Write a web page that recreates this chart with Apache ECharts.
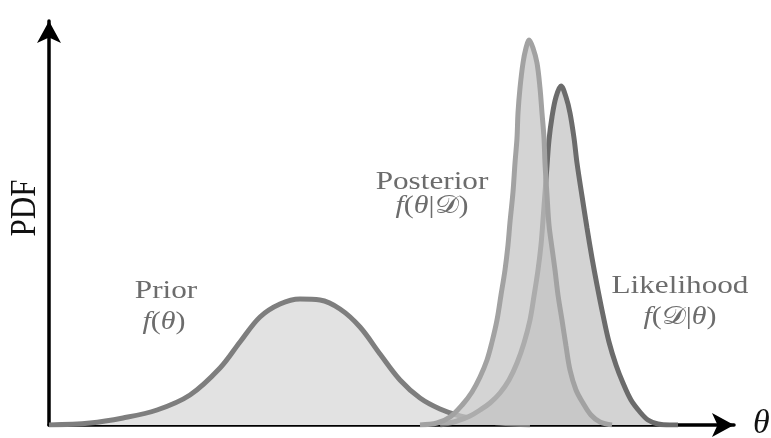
<!DOCTYPE html>
<html><head><meta charset="utf-8">
<script src="https://cdn.jsdelivr.net/npm/echarts@6/dist/echarts.min.js"></script>
<style>html,body{margin:0;padding:0;background:#fff}#c{width:771px;height:438px}</style>
</head><body><div id="c"></div>
<script>
// ---- data (theta in arbitrary units, PDF in arbitrary units) ----
const priorTheta = [0.0, 4.1, 7.4, 10.8, 14.1, 17.1, 19.1, 21.1, 23.1, 25.1, 27.1, 29.1, 31.1, 33.1, 35.1, 37.1, 39.1, 41.1, 43.1, 45.1, 48.1];
const priorPdf   = [0, 0.02, 0.07, 0.15, 0.30, 0.57, 0.83, 1.08, 1.21, 1.26, 1.25, 1.16, 0.98, 0.71, 0.45, 0.27, 0.16, 0.09, 0.05, 0.02, 0];

const likelihoodTheta = [39.1, 40.8, 42.1, 43.1, 44.1, 45.1, 46.0, 46.8, 47.5, 48.1, 48.5, 48.9, 49.2, 49.4, 49.6, 49.8, 50.0, 50.3, 50.7, 51.2, 51.7, 52.1, 52.5, 52.8, 53.3, 53.8, 54.3, 54.8, 55.4, 56.0, 56.7, 57.4, 58.2, 59.1, 59.9, 60.9, 62.1, 62.9];
const likelihoodPdf   = [0, 0.04, 0.09, 0.15, 0.22, 0.32, 0.45, 0.62, 0.82, 1.05, 1.29, 1.55, 1.80, 2.05, 2.32, 2.59, 2.85, 3.08, 3.28, 3.39, 3.28, 3.12, 2.87, 2.62, 2.29, 1.97, 1.67, 1.40, 1.10, 0.83, 0.60, 0.42, 0.25, 0.13, 0.05, 0.01, 0, 0];

const posteriorTheta = [37.1, 38.8, 40.1, 41.4, 42.3, 43.1, 43.8, 44.3, 44.8, 45.2, 45.6, 45.9, 46.1, 46.4, 46.6, 46.8, 46.9, 47.1, 47.4, 47.7, 48.0, 48.4, 48.8, 49.1, 49.3, 49.5, 49.6, 49.8, 50.0, 50.3, 50.6, 50.9, 51.3, 51.7, 52.1, 52.7, 53.4, 54.2, 55.1, 56.3];
const posteriorPdf   = [0, 0.02, 0.08, 0.21, 0.33, 0.48, 0.65, 0.83, 1.05, 1.30, 1.55, 1.80, 2.03, 2.33, 2.62, 2.87, 3.12, 3.37, 3.62, 3.77, 3.85, 3.77, 3.62, 3.37, 3.12, 2.87, 2.62, 2.30, 2.00, 1.77, 1.55, 1.30, 1.05, 0.79, 0.55, 0.35, 0.22, 0.10, 0.03, 0];

const curveNames = ['Prior', 'Posterior', 'Likelihood'];
const axisTitles = ['PDF', 'θ'];

// ---- chart ----
const serif = '"Liberation Serif", "DejaVu Serif", serif';
const pairs = (xs, ys) => xs.map((x, i) => [x, ys[i]]);
const chart = echarts.init(document.getElementById('c'), null, {renderer: 'canvas'});

const axisCommon = {
  type: 'value', min: 0,
  axisLine: {show: true, symbol: ['none', 'arrow'], symbolSize: [18, 22], lineStyle: {color: '#000', width: 3.5}},
  axisTick: {show: false}, axisLabel: {show: false}, splitLine: {show: false}
};

function lineSeries(name, xs, ys, lineColor, fill, z) {
  return {
    name: name, type: 'line', data: pairs(xs, ys), symbol: 'none',
    smooth: 0.35, z: z,
    lineStyle: {color: lineColor, width: 5},
    areaStyle: {color: fill, opacity: 1},
    silent: true
  };
}

const labelColor = '#6c6c6c';
const rich = {
  i: {fontFamily: serif, fontSize: 25, fontStyle: 'italic', fill: labelColor},
  r: {fontFamily: serif, fontSize: 25, fill: labelColor}
};
function nameText(text, x, y) {
  return {type: 'text', x: x, y: y, scaleX: 1.2, z: 100,
    style: {text: text, fontFamily: serif, fontSize: 26, fill: labelColor, align: 'center', verticalAlign: 'middle'}};
}
function mathText(text, x, y) {
  return {type: 'text', x: x, y: y, scaleX: 1.2, z: 100,
    style: {text: text, rich: rich, fontFamily: serif, fontSize: 25, fill: labelColor, align: 'center', verticalAlign: 'middle'}};
}

chart.setOption({
  animation: false,
  backgroundColor: '#ffffff',
  grid: {left: 49, right: 37, top: 21, bottom: 13},
  xAxis: Object.assign({}, axisCommon, {max: 68.5}),
  yAxis: Object.assign({}, axisCommon, {max: 4.04}),
  series: [
    lineSeries(curveNames[0], priorTheta, priorPdf, '#7e7e7e', '#e2e2e2', 2),
    lineSeries(curveNames[2], likelihoodTheta, likelihoodPdf, '#6b6b6b', '#d3d3d3', 3),
    lineSeries(curveNames[1], posteriorTheta, posteriorPdf, '#a2a2a2', 'rgba(196,196,196,0.73)', 4)
  ],
  graphic: [
    {type: 'text', x: 25, y: 208, rotation: Math.PI / 2, scaleY: 1.17, z: 100,
      style: {text: axisTitles[0], fontFamily: serif, fontSize: 31, fill: '#111', align: 'center', verticalAlign: 'middle'}},
    {type: 'text', x: 753, y: 424, z: 100,
      style: {text: axisTitles[1], fontFamily: serif, fontSize: 34, fontStyle: 'italic', fill: '#111', align: 'left', verticalAlign: 'middle'}},
    nameText(curveNames[0], 166, 291),
    mathText('{i|f}{r|(}{i|θ}{r|)}', 164, 322),
    nameText(curveNames[1], 432, 182),
    mathText('{i|f}{r|(}{i|θ}{r||}{r|𝒟}{r|)}', 432, 206),
    nameText(curveNames[2], 680, 286),
    mathText('{i|f}{r|(}{r|𝒟}{r||}{i|θ}{r|)}', 680, 317)
  ]
});
</script></body></html>
